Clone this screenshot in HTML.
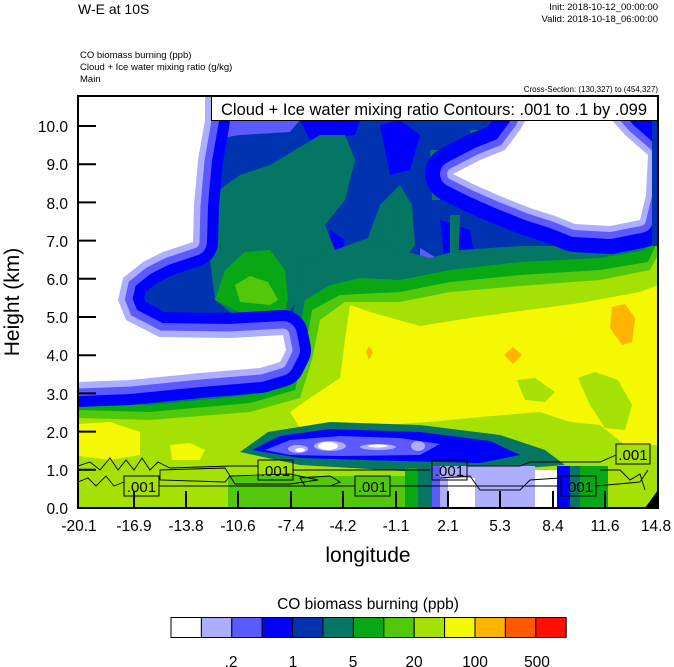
<!DOCTYPE html>
<html><head><meta charset="utf-8"><style>
html,body{margin:0;padding:0;background:#fff;}
svg{display:block;font-family:"Liberation Sans",sans-serif;}
</style></head><body>
<svg width="674" height="667" viewBox="0 0 674 667" xmlns="http://www.w3.org/2000/svg">
<defs><clipPath id="pc"><rect x="78" y="96" width="580" height="412"/></clipPath></defs>
<text x="78" y="14" font-size="14">W-E at 10S</text>
<text x="658" y="10" font-size="9.5" text-anchor="end">Init: 2018-10-12_00:00:00</text>
<text x="658" y="22" font-size="9.5" text-anchor="end">Valid: 2018-10-18_06:00:00</text>
<text x="80" y="58" font-size="9.5">CO biomass burning   (ppb)</text>
<text x="80" y="70" font-size="9.5">Cloud + Ice water mixing ratio   (g/kg)</text>
<text x="80" y="82" font-size="9.5">Main</text>
<text x="658" y="92" font-size="8" text-anchor="end">Cross-Section: (130,327) to (454,327)</text>

<g clip-path="url(#pc)">
<rect x="78" y="96" width="580" height="412" fill="#0033b0"/>
<path d="M205,120 L300,120 L290,132 L240,135 L210,140 Z" fill="#5a5aff"/>
<path d="M300,120 L360,120 L355,135 L310,140 Z" fill="#0000ff"/>
<path d="M380,125 L400,120 L420,135 L410,170 L390,175 Z" fill="#0000ff"/>
<path d="M440,220 L470,230 L475,260 L445,265 Z" fill="#0000ff"/>
<path d="M420,248 L440,260 L445,280 L420,282 Z" fill="#5a5aff"/>
<path d="M330,230 L345,240 L340,262 L328,258 Z" fill="#0000ff"/>
<!-- teal big region -->
<path d="M212,195 L240,175 L270,165 L295,150 L320,135 L345,135 L355,160 L345,200 L325,225 L335,250 L368,238 L380,205 L400,185 L412,205 L415,245 L400,265 L380,275 L360,290 L320,285 L300,295 L285,320 L282,345 L265,330 L240,320 L215,300 L210,260 L215,230 Z" fill="#057564"/>
<path d="M430,150 L440,150 L440,200 L432,200 Z M470,130 L490,130 L488,145 L472,145 Z M380,205 L400,190 L395,230 L378,235 Z M450,215 L460,215 L458,270 L450,268 Z" fill="#057564"/>
<path d="M215,300 L225,270 L245,252 L270,250 L285,270 L288,300 L282,320 L250,318 Z" fill="#07a814"/>
<path d="M235,285 L250,276 L268,282 L278,300 L270,305 L240,302 Z" fill="#52c80a"/>
<!-- lower nested bands -->
<path d="M78,392 L150,396 L250,385 L282,372 L290,340 L295,300 L300,262 L330,252 L370,242 L400,250 L430,258 L460,250 L520,246 L600,246 L640,238 L650,200 L658,180 L658,508 L78,508 Z" fill="#057564"/>
<path d="M78,402 L150,405 L250,395 L290,382 L298,340 L305,300 L330,285 L360,278 L400,280 L450,270 L520,262 L600,258 L645,250 L652,230 L658,215 L658,508 L78,508 Z" fill="#07a814"/>
<path d="M78,410 L150,412 L250,403 L295,390 L305,350 L312,310 L340,295 L400,292 L450,282 L520,275 L600,270 L648,262 L658,240 L658,508 L78,508 Z" fill="#52c80a"/>
<path d="M78,418 L150,420 L250,412 L300,398 L312,360 L320,320 L345,302 L400,302 L450,292 L520,286 L600,280 L650,270 L658,255 L658,508 L78,508 Z" fill="#a5e203"/>
<path d="M350,305 L370,312 L420,326 L470,318 L520,311 L580,303 L640,292 L658,285 L658,445 L625,445 L600,425 L570,422 L540,412 L480,417 L440,421 L400,424 L340,430 L300,428 L290,412 L310,398 L340,378 L345,340 Z" fill="#f4f802"/>
<path d="M517,380 L535,378 L555,392 L545,402 L525,400 Z" fill="#a5e203"/>
<path d="M578,378 L595,372 L618,380 L632,405 L625,430 L605,428 L590,405 Z" fill="#a5e203"/>
<path d="M612,307 L625,304 L635,318 L632,342 L622,345 L610,328 Z" fill="#ffb400"/>
<path d="M513,347 L522,355 L513,364 L504,355 Z" fill="#ffb400"/>
<path d="M369,346 L373,352 L369,360 L366,352 Z" fill="#ffb400"/>
<path d="M78,424 L110,422 L140,432 L140,455 L110,460 L78,456 Z" fill="#f4f802"/>
<path d="M170,445 L190,443 L205,450 L200,460 L172,460 Z" fill="#f4f802"/>
<!-- blue band with white spots -->
<path d="M240,452 L268,432 L330,422 L420,425 L500,435 L545,450 L565,465 L500,470 L420,472 L300,465 Z" fill="#057564"/>
<path d="M252,450 L280,436 L330,429 L420,432 L490,441 L520,455 L480,463 L400,461 L300,458 Z" fill="#0000ff"/>
<path d="M265,450 L290,440 L340,436 L400,438 L440,444 L420,455 L340,456 L290,455 Z" fill="#5a5aff"/>
<ellipse cx="298" cy="449" rx="10" ry="4" fill="#aeaeff"/><ellipse cx="330" cy="446" rx="16" ry="5" fill="#aeaeff"/><ellipse cx="378" cy="447" rx="18" ry="3" fill="#aeaeff"/><ellipse cx="418" cy="446" rx="7" ry="5" fill="#aeaeff"/>
<ellipse cx="328" cy="446" rx="10" ry="4" fill="#fff"/><ellipse cx="300" cy="450" rx="5" ry="2" fill="#fff"/><ellipse cx="378" cy="446" rx="10" ry="1.5" fill="#fff"/>
<!-- bottom columns -->
<rect x="228" y="476" width="195" height="32" fill="#52c80a"/>
<rect x="405" y="468" width="15" height="40" fill="#07a814"/>
<rect x="418" y="466" width="14" height="42" fill="#057564"/>
<rect x="432" y="466" width="8" height="42" fill="#5a5aff"/>
<rect x="440" y="466" width="95" height="42" fill="#aeaeff"/>
<rect x="448" y="478" width="27" height="30" fill="#fff"/>
<rect x="535" y="470" width="22" height="38" fill="#fff"/>
<rect x="557" y="466" width="13" height="42" fill="#0000ff"/>
<rect x="570" y="466" width="10" height="42" fill="#057564"/>
<rect x="580" y="466" width="28" height="42" fill="#07a814"/>
<path d="M78,482 L140,482 L140,508 L78,508 Z" fill="#a5e203"/>
<!-- top white/halo regions -->
<g stroke-linejoin="round">
<path d="M78,96 L205,96 L205,120 L198,160 L194,205 L193,242 L163,252 L143,262 L123,278 L118,300 L126,320 L159,337 L230,338 L283,335 L286,350 L280,362 L260,368 L200,373 L130,380 L78,382 Z" fill="#0000ff" stroke="#0000ff" stroke-width="50"/>
<path d="M78,96 L205,96 L205,120 L198,160 L194,205 L193,242 L163,252 L143,262 L123,278 L118,300 L126,320 L159,337 L230,338 L283,335 L286,350 L280,362 L260,368 L200,373 L130,380 L78,382 Z" fill="#5a5aff" stroke="#5a5aff" stroke-width="28"/>
<path d="M78,96 L205,96 L205,120 L198,160 L194,205 L193,242 L163,252 L143,262 L123,278 L118,300 L126,320 L159,337 L230,338 L283,335 L286,350 L280,362 L260,368 L200,373 L130,380 L78,382 Z" fill="#aeaeff" stroke="#aeaeff" stroke-width="13"/>
<path d="M78,96 L205,96 L205,120 L198,160 L194,205 L193,242 L163,252 L143,262 L123,278 L118,300 L126,320 L159,337 L230,338 L283,335 L286,350 L280,362 L260,368 L200,373 L130,380 L78,382 Z" fill="#fff"/>
<path d="M453,174 L480,160 L505,150 L520,130 L527,118 L610,118 L625,135 L640,148 L648,155 L646,195 L640,220 L610,226 L575,224 L555,216 L530,208 L500,196 L475,185 Z" fill="#0000ff" stroke="#0000ff" stroke-width="56"/>
<path d="M453,174 L480,160 L505,150 L520,130 L527,118 L610,118 L625,135 L640,148 L648,155 L646,195 L640,220 L610,226 L575,224 L555,216 L530,208 L500,196 L475,185 Z" fill="#5a5aff" stroke="#5a5aff" stroke-width="26"/>
<path d="M453,174 L480,160 L505,150 L520,130 L527,118 L610,118 L625,135 L640,148 L648,155 L646,195 L640,220 L610,226 L575,224 L555,216 L530,208 L500,196 L475,185 Z" fill="#aeaeff" stroke="#aeaeff" stroke-width="12"/>
<path d="M453,174 L480,160 L505,150 L520,130 L527,118 L610,118 L625,135 L640,148 L648,155 L646,195 L640,220 L610,226 L575,224 L555,216 L530,208 L500,196 L475,185 Z" fill="#fff"/>
</g>
<rect x="652" y="96" width="6" height="150" fill="#0033b0"/>
<path d="M645,508 L658,490 L658,508 Z" fill="#000"/>
<!-- contour lines -->
<g fill="none" stroke="#000" stroke-width="0.9">
<path d="M78,466 L90,462 L100,470 L110,458 L118,470 L126,460 L134,470 L142,458 L150,470 L158,462 L170,468 L230,466 L258,466 M293,470 L430,470 M467,466 L520,466 L530,462 L560,462 L600,462 L616,455"/>
<path d="M78,482 L88,478 L96,486 L106,476 L114,486 L124,482 M159,486 L355,486 M390,486 L561,486 M596,486 L640,482 L648,470"/>
<path d="M160,470 L225,468 L230,476 L225,482 L160,480 Z"/>
<path d="M230,476 L290,474 L318,480 L290,484 L235,484 Z"/>
<path d="M300,478 L330,476 L340,482 L330,486 L305,486 Z"/>
<path d="M440,478 L470,476 L480,490 L520,490 L530,480 L560,478"/>
<path d="M600,470 L620,470 L630,480 L640,474 L645,490"/>
</g>
<g fill="none" stroke="#000" stroke-width="1">
<rect x="124" y="476" width="35" height="20"/><rect x="258" y="460" width="35" height="20"/><rect x="355" y="476" width="35" height="20"/><rect x="432" y="460" width="35" height="20"/><rect x="561" y="476" width="35" height="20"/><rect x="616" y="444" width="34" height="20"/>
</g>
<g font-size="15" text-anchor="middle">
<text x="141.5" y="492">.001</text><text x="275.5" y="476">.001</text><text x="372.5" y="492">.001</text><text x="449.5" y="476">.001</text><text x="578.5" y="492">.001</text><text x="633" y="460">.001</text>
</g>
</g>
<rect x="211.5" y="96.5" width="446" height="24" fill="#fff" stroke="#000" stroke-width="1"/>
<text x="434" y="115" font-size="16.5" text-anchor="middle">Cloud + Ice water mixing ratio Contours: .001 to .1 by .099</text>
<rect x="78" y="96" width="580" height="412" fill="none" stroke="#000" stroke-width="2"/>
<g stroke="#000" stroke-width="2">
<path d="M78,508H96M78,469.8H96M78,431.6H96M78,393.4H96M78,355.2H96M78,317H96M78,278.8H96M78,240.6H96M78,202.4H96M78,164.2H96M78,126H96"/>
<path d="M134,508V491M186,508V491M238,508V491M291,508V491M343,508V491M396,508V491M448,508V491M500,508V491M553,508V491M605,508V491"/>
</g>
<g font-size="15.5" text-anchor="end">
<text x="68" y="514">0.0</text><text x="68" y="476">1.0</text><text x="68" y="438">2.0</text><text x="68" y="400">3.0</text><text x="68" y="361">4.0</text><text x="68" y="323">5.0</text><text x="68" y="285">6.0</text><text x="68" y="247">7.0</text><text x="68" y="209">8.0</text><text x="68" y="170">9.0</text><text x="68" y="132">10.0</text>
</g>
<g font-size="15.5" text-anchor="middle">
<text x="79" y="531">-20.1</text><text x="134" y="531">-16.9</text><text x="186" y="531">-13.8</text><text x="238" y="531">-10.6</text><text x="291" y="531">-7.4</text><text x="343" y="531">-4.2</text><text x="396" y="531">-1.1</text><text x="448" y="531">2.1</text><text x="500" y="531">5.3</text><text x="553" y="531">8.4</text><text x="605" y="531">11.6</text><text x="656" y="531">14.8</text>
</g>
<text x="368" y="562" font-size="21" text-anchor="middle">longitude</text>
<text transform="translate(19,302) rotate(-90)" font-size="21" text-anchor="middle">Height (km)</text>
<text x="368" y="609" font-size="15.5" text-anchor="middle">CO biomass burning  (ppb)</text>
<g stroke="#000" stroke-width="1">
<rect x="171" y="617.5" width="30.4" height="20" fill="#fff"/>
<rect x="201.4" y="617.5" width="30.4" height="20" fill="#aeaeff"/>
<rect x="231.8" y="617.5" width="30.4" height="20" fill="#5a5aff"/>
<rect x="262.2" y="617.5" width="30.4" height="20" fill="#0000ff"/>
<rect x="292.6" y="617.5" width="30.4" height="20" fill="#0033b0"/>
<rect x="323" y="617.5" width="30.4" height="20" fill="#057564"/>
<rect x="353.4" y="617.5" width="30.4" height="20" fill="#07a814"/>
<rect x="383.8" y="617.5" width="30.4" height="20" fill="#52c80a"/>
<rect x="414.2" y="617.5" width="30.4" height="20" fill="#a5e203"/>
<rect x="444.6" y="617.5" width="30.4" height="20" fill="#f4f802"/>
<rect x="475" y="617.5" width="30.4" height="20" fill="#ffb400"/>
<rect x="505.4" y="617.5" width="30.4" height="20" fill="#ff5a00"/>
<rect x="535.8" y="617.5" width="30.4" height="20" fill="#ff1000"/>
</g>
<g font-size="15.5" text-anchor="middle">
<text x="231" y="667">.2</text><text x="293" y="667">1</text><text x="353" y="667">5</text><text x="414" y="667">20</text><text x="475" y="667">100</text><text x="537" y="667">500</text>
</g>
</svg>
</body></html>
